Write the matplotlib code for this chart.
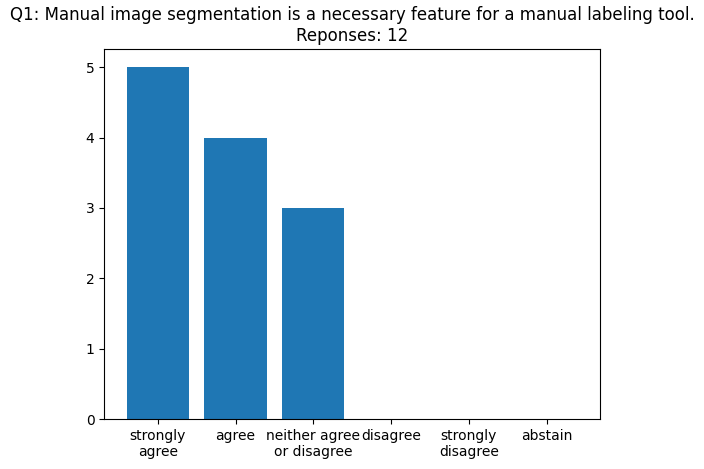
import matplotlib
matplotlib.use('Agg')
import matplotlib.pyplot as plt

# Antworten auf Q1
categories = ['strongly\nagree', 'agree', 'neither agree\nor disagree',
              'disagree', 'strongly\ndisagree', 'abstain']
counts = [5, 4, 3, 0, 0, 0]
n_responses = 12

fig = plt.figure(figsize=(7.04, 4.69), dpi=100)
ax = fig.add_axes([0.148, 0.106, 0.7045, 0.7885])
ax.bar(categories, counts, color='#1f77b4')
ax.set_title('Q1: Manual image segmentation is a necessary feature for a manual labeling tool.\n'
             f'Reponses: {n_responses}')
fig.savefig('out.png', dpi=100)
